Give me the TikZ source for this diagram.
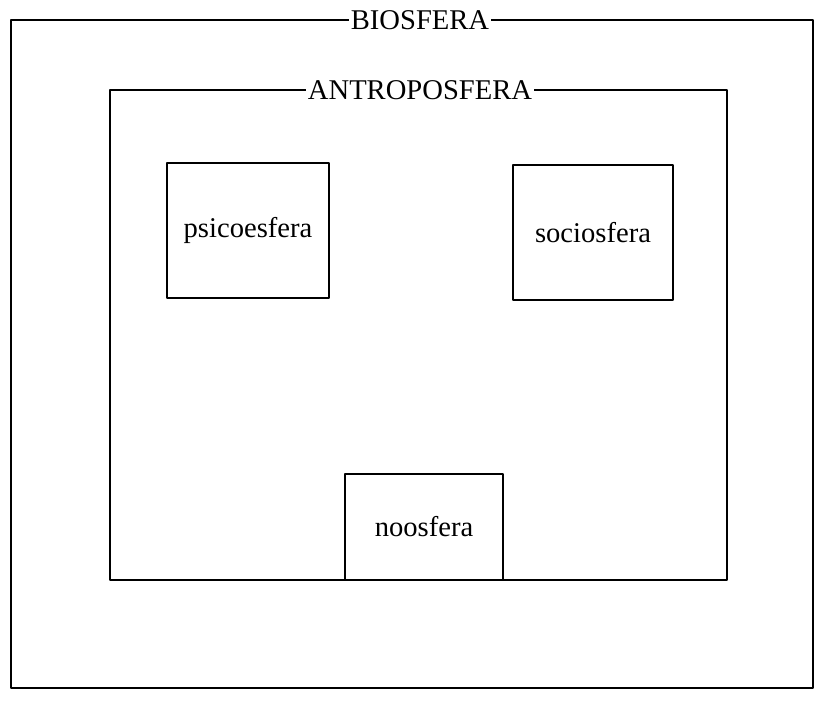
\documentclass[tikz,border=0pt]{standalone}
\usepackage{fontspec}
\setmainfont{Liberation Serif}
\usetikzlibrary{positioning}

\begin{document}
\begin{tikzpicture}[line cap=round,line join=round,x=0.5pt,y=-0.5pt,
  caja/.style={draw,line width=1pt,inner sep=0pt},
  esfera/.style={caja,font=\fontsize{14.3}{17}\selectfont},
  titulo/.style={fill=white,inner sep=1pt,font=\fontsize{14.3}{17}\selectfont}]
\useasboundingbox (0,0) rectangle (823,705);
\node[caja,minimum width=401pt,minimum height=334pt] (biosfera) at (412,354) {};
\node[caja,minimum width=308.5pt,minimum height=245pt] (antroposfera) at (418.5,335) {};
\node[esfera,minimum width=81pt,minimum height=67.5pt] (psico) at (248,230.5) {psicoesfera};
\node[esfera,minimum width=80pt,minimum height=67.5pt] (socio) at (593,232.5) {sociosfera};
\node[esfera,minimum width=79pt,minimum height=53pt] (noo) at (424,527) {\raisebox{-3pt}{noosfera}};
\node[titulo] (tbio) at (420,20) {BIOSFERA};
\node[titulo] (tantro) at (420,90) {ANTROPOSFERA};
\end{tikzpicture}
\end{document}
